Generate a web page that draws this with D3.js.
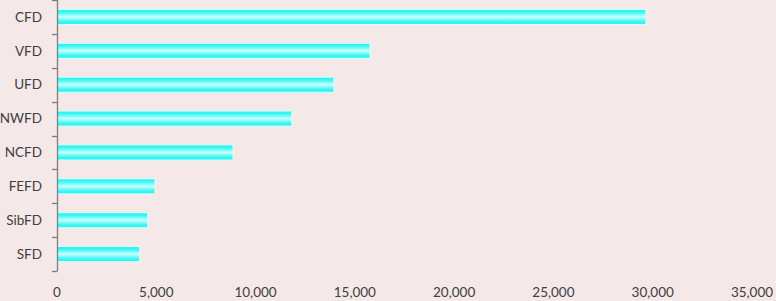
<!DOCTYPE html>
<html><head><meta charset="utf-8">
<script src="https://cdn.jsdelivr.net/npm/d3@7"></script>
<style>
html,body{margin:0;padding:0;background:#f5e8e8;}
svg{display:block;}
</style></head>
<body>
<script>
const categories = ["CFD","VFD","UFD","NWFD","NCFD","FEFD","SibFD","SFD"];
const values = [29660, 15770, 13950, 11830, 8870, 4940, 4580, 4170];
const tickValues = [0,5000,10000,15000,20000,25000,30000,35000];

const W = 776, H = 301;
const svg = d3.select("body").append("svg").attr("width", W).attr("height", H);
svg.append("rect").attr("width", W).attr("height", H).attr("fill", "#f5e8e8");

const x = d3.scaleLinear().domain([0, 35000]).range([57, 752]);
const y = d3.scaleBand().domain(categories).range([0, 271]).paddingInner(0.55).paddingOuter(0.275);

const defs = svg.append("defs");
const g = defs.append("linearGradient").attr("id","barGrad").attr("x1",0).attr("y1",0).attr("x2",0).attr("y2",1);
g.append("stop").attr("offset","0%").attr("stop-color","#1ff2f0");
g.append("stop").attr("offset","20%").attr("stop-color","#3ff6f4");
g.append("stop").attr("offset","50%").attr("stop-color","#c8fffd");
g.append("stop").attr("offset","80%").attr("stop-color","#3ff6f4");
g.append("stop").attr("offset","100%").attr("stop-color","#1ff2f0");

// bars
svg.append("g").selectAll("rect").data(categories).join("rect")
  .attr("x", x(0))
  .attr("y", d => y(d))
  .attr("width", (d,i) => x(values[i]) - x(0))
  .attr("height", y.bandwidth())
  .attr("fill", "url(#barGrad)")
  .attr("stroke", "#e0fbf8")
  .attr("stroke-width", 1.2);

// y axis line
svg.append("line").attr("x1", 57.5).attr("x2", 57.5).attr("y1", 0).attr("y2", 271)
  .attr("stroke", "#7f7f7f").attr("stroke-width", 1.3);
// boundary ticks
const step = y.step();
const bounds = d3.range(categories.length + 1).map(i => i * 271 / categories.length);
svg.append("g").selectAll("line").data(bounds).join("line")
  .attr("x1", 52).attr("x2", 57.5)
  .attr("y1", d => Math.round(d) + 0.5).attr("y2", d => Math.round(d) + 0.5)
  .attr("stroke", "#7f7f7f").attr("stroke-width", 1.3);

// category labels
svg.append("g").selectAll("text").data(categories).join("text")
  .attr("x", 42)
  .attr("y", d => y(d) + y.bandwidth()/2)
  .attr("dy", "0.35em")
  .attr("text-anchor", "end")
  .attr("font-family", "Lato, 'Open Sans', sans-serif")
  .attr("font-size", 13.5)
  .attr("fill", "#404040")
  .text(d => d);

// x tick labels
const fmt = d3.format(",");
svg.append("g").selectAll("text").data(tickValues).join("text")
  .attr("x", d => x(d))
  .attr("y", 292)
  .attr("dy", "0.35em")
  .attr("text-anchor", "middle")
  .attr("font-family", "Lato, 'Open Sans', sans-serif")
  .attr("font-size", 13.5)
  .attr("fill", "#404040")
  .text(d => fmt(d));
</script>
</body></html>
